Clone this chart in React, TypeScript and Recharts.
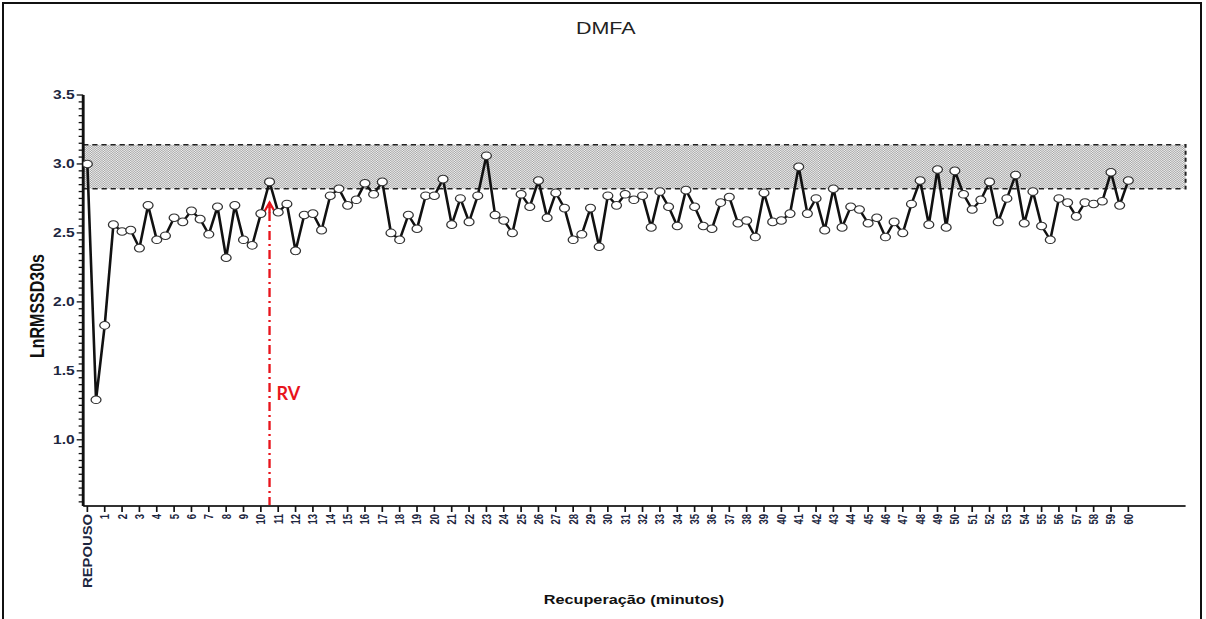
import { LineChart, Line, XAxis, YAxis, ReferenceArea, ReferenceLine } from 'recharts';

// the source image is stretched horizontally, so the chart is drawn narrower and scaled on x
const STRETCH = 1.3;
const FONT = '"Liberation Sans", Arial, sans-serif';

const xLabels = [
  'REPOUSO', '1', '2', '3', '4', '5', '6', '7', '8', '9', '10',
  '11', '12', '13', '14', '15', '16', '17', '18', '19', '20',
  '21', '22', '23', '24', '25', '26', '27', '28', '29', '30',
  '31', '32', '33', '34', '35', '36', '37', '38', '39', '40',
  '41', '42', '43', '44', '45', '46', '47', '48', '49', '50',
  '51', '52', '53', '54', '55', '56', '57', '58', '59', '60',
];

// LnRMSSD30s, one value every 30 s (first value = repouso)
const lnRmssd = [
  3.0, 1.29, 1.83, 2.56, 2.51, 2.52, 2.39, 2.7, 2.45, 2.48,
  2.61, 2.58, 2.66, 2.6, 2.49, 2.69, 2.32, 2.7, 2.45, 2.41,
  2.64, 2.87, 2.65, 2.71, 2.37, 2.63, 2.64, 2.52, 2.77, 2.82,
  2.7, 2.74, 2.86, 2.78, 2.87, 2.5, 2.45, 2.63, 2.53, 2.77,
  2.77, 2.89, 2.56, 2.75, 2.58, 2.77, 3.06, 2.63, 2.59, 2.5,
  2.78, 2.69, 2.88, 2.61, 2.79, 2.68, 2.45, 2.49, 2.68, 2.4,
  2.77, 2.7, 2.78, 2.74, 2.77, 2.54, 2.8, 2.69, 2.55, 2.81,
  2.69, 2.55, 2.53, 2.72, 2.76, 2.57, 2.59, 2.47, 2.79, 2.58,
  2.59, 2.64, 2.98, 2.64, 2.75, 2.52, 2.82, 2.54, 2.69, 2.67,
  2.57, 2.61, 2.47, 2.58, 2.5, 2.71, 2.88, 2.56, 2.96, 2.54,
  2.95, 2.78, 2.67, 2.74, 2.87, 2.58, 2.75, 2.92, 2.57, 2.8,
  2.55, 2.45, 2.75, 2.72, 2.62, 2.72, 2.71, 2.73, 2.94, 2.7,
  2.88,
];

const yMajorTicks = [1.0, 1.5, 2.0, 2.5, 3.0, 3.5];
const bandLow = 2.82;
const bandHigh = 3.14;
const rvMinute = 10.5;
const rvTop = 2.72;

const yMin = 0.52;
const yMax = 3.5;

const data = lnRmssd.map((v, i) => ({ t: i / 2, v }));
const xTicks = xLabels.map((_, i) => i);
// minor ticks every 0.05
const yTicks: number[] = [];
for (let k = 11; k <= 70; k++) yTicks.push(k * 5 / 100);

const isMajor = (v: number) => yMajorTicks.some((m) => Math.abs(m - v) < 0.001);

const YTick = (props: any) => {
  const { x, y, payload } = props;
  const major = isMajor(payload.value);
  return (
    <g>
      <line x1={x - (major ? 5 : 3.5)} x2={x} y1={y} y2={y} stroke="#111" strokeWidth={1.3} />
      {major && (
        <text x={x - 6.5} y={y} dy="0.36em" textAnchor="end" fontFamily={FONT} fontWeight="bold" fontSize={12} fill="#1d2640">
          {payload.value.toFixed(1)}
        </text>
      )}
    </g>
  );
};

const XTick = (props: any) => {
  const { x, y, payload } = props;
  const label = xLabels[payload.value];
  const isRest = payload.value === 0;
  return (
    <g>
      <line x1={x} x2={x} y1={y} y2={y + 6} stroke="#111" strokeWidth={1.3} />
      <text
        transform={`translate(${x},${y + 8}) rotate(-90)`}
        dy="0.36em"
        textAnchor="end"
        fontFamily={FONT}
        fontWeight="bold"
        fontSize={isRest ? 10 : 9.5}
        fill="#1d2640"
        textLength={isRest ? 74 : undefined}
        lengthAdjust={isRest ? 'spacingAndGlyphs' : undefined}
      >
        {label}
      </text>
    </g>
  );
};

const Dot = (props: any) => {
  const { cx, cy, index } = props;
  return <circle key={`d${index}`} cx={cx} cy={cy} r={3.8} fill="#fff" stroke="#333" strokeWidth={1} />;
};

// RV marker: red dash-dot arrow with label
const RvArrow = (props: any) => {
  const { x1, y1, y2 } = props;
  const red = '#e8141c';
  return (
    <g>
      <line x1={x1} x2={x1} y1={y1} y2={y2 + 4} stroke={red} strokeWidth={1.8} strokeDasharray="9 4 2 4" />
      <path d={`M${x1 - 4},${y2 + 9} L${x1},${y2} L${x1 + 4},${y2 + 9}`} fill="none" stroke={red} strokeWidth={1.8} />
      <line x1={x1} x2={x1} y1={y2} y2={y2 + 10} stroke={red} strokeWidth={1.8} />
      <text
        transform={`translate(${x1 + 5.4},${y1 - 106}) scale(${1 / STRETCH},1)`}
        fontFamily="Lato, 'Open Sans', sans-serif"
        fontWeight="bold"
        fontSize={18}
        fill={red}
      >
        RV
      </text>
    </g>
  );
};

export default function App() {
  const w = 928;
  const h = 619;
  return (
    <div style={{ position: 'fixed', left: 0, top: 0, width: 1206, height: 619, background: '#fff', overflow: 'hidden' }}>
      <div style={{ position: 'absolute', left: 2, top: 2, width: 1200, height: 630, border: '2px solid #111', boxSizing: 'border-box' }} />
      <div style={{ position: 'absolute', left: 0, top: 0, width: w, height: h, transform: `scaleX(${STRETCH})`, transformOrigin: '0 0' }}>
        <div style={{ position: 'absolute', left: 466, top: 28, transform: 'translate(-50%,-50%)', fontFamily: FONT, fontSize: 16.5, color: '#222', whiteSpace: 'nowrap' }}>
          DMFA
        </div>
        <div style={{ position: 'absolute', left: 28.5, top: 306, transform: 'translate(-50%,-50%) rotate(-90deg)', fontFamily: FONT, fontWeight: 'bold', fontSize: 16, color: '#111', whiteSpace: 'nowrap' }}>
          LnRMSSD30s
        </div>
        <div style={{ position: 'absolute', left: 487.7, top: 600, transform: 'translate(-50%,-50%)', fontFamily: FONT, fontWeight: 'bold', fontSize: 12.5, color: '#111', whiteSpace: 'nowrap' }}>
          Recuperação (minutos)
        </div>
        <LineChart width={w} height={h} data={data} margin={{ top: 95, right: 16, bottom: 0, left: 0 }}>
          <defs>
            <pattern id="stipple" width="2" height="2" patternUnits="userSpaceOnUse">
              <rect width="2" height="2" fill="#f0f0f0" />
              <rect width="1" height="1" fill="#a4a4a4" />
              <rect x="1" y="1" width="1" height="1" fill="#a4a4a4" />
            </pattern>
          </defs>
          <XAxis
            type="number"
            dataKey="t"
            domain={[-0.24, 63.3]}
            ticks={xTicks}
            interval={0}
            allowDataOverflow
            height={113}
            tickSize={0}
            tickMargin={0}
            tick={XTick}
            axisLine={{ stroke: '#333', strokeWidth: 2 }}
          />
          <YAxis
            type="number"
            domain={[yMin, yMax]}
            ticks={yTicks}
            interval={0}
            allowDataOverflow
            width={64}
            tickSize={0}
            tickMargin={0}
            tick={YTick}
            axisLine={{ stroke: '#111', strokeWidth: 2.2 }}
          />
          <ReferenceArea
            y1={bandLow}
            y2={bandHigh}
            fill="url(#stipple)"
            fillOpacity={1}
            stroke="#222"
            strokeWidth={1.5}
            strokeDasharray="4 3"
          />
          <ReferenceLine
            segment={[{ x: rvMinute, y: yMin }, { x: rvMinute, y: rvTop }]}
            shape={RvArrow}
          />
          <Line
            type="linear"
            dataKey="v"
            stroke="#111"
            strokeWidth={2}
            dot={Dot}
            activeDot={false}
            isAnimationActive={false}
          />
        </LineChart>
      </div>
    </div>
  );
}
